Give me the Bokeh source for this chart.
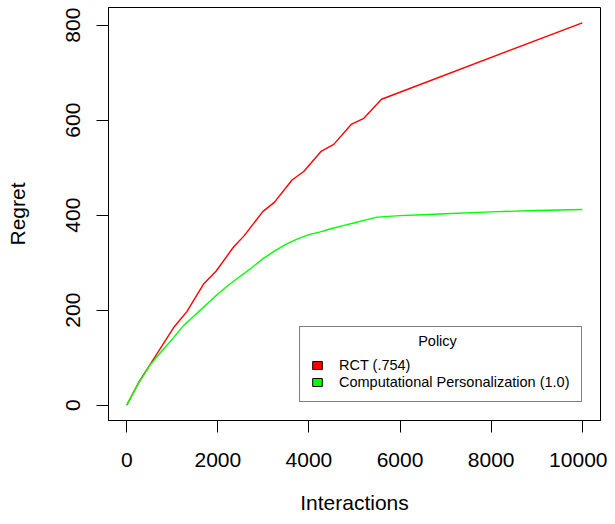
from bokeh.plotting import figure
from bokeh.models import (Range1d, FixedTicker, Legend, LegendItem,
                          ColumnDataSource)
from bokeh.core.properties import value
from bokeh.embed import file_html
from bokeh.resources import INLINE

# ---- data ----
rct_x = [0, 270, 1026, 1320, 1686, 1960, 2345, 2580, 2991, 3240, 3629, 3885,
         4274, 4545, 4927, 5205, 5594, 10000]
rct_y = [0, 49, 163, 197, 255, 282, 333, 357, 408, 427, 474, 492,
         535, 549, 591, 604, 644, 805]

cp_x = [0, 250, 500, 750, 1000, 1250, 1500, 1750, 2000, 2250, 2500, 2750,
        3000, 3250, 3500, 3750, 4000, 4250, 4500, 4750, 5000, 5250, 5500,
        6000, 6500, 7000, 8000, 9000, 10000]
cp_y = [0, 45, 83, 112, 139, 168, 190, 212, 234, 254, 272, 290,
        309, 325, 339, 350, 359, 365, 372, 378, 384, 390, 396,
        399, 401, 403, 407, 410, 412]

x_ticks = [0, 2000, 4000, 6000, 8000, 10000]
y_ticks = [0, 200, 400, 600, 800]

series_names = ["RCT (.754)", "Computational Personalization (1.0)"]
series_colors = ["#FF0000", "#00FF00"]
legend_title = "Policy"

FONT = "Liberation Sans"

p = figure(width=607, height=516, output_backend="svg", toolbar_location=None,
           x_range=Range1d(-400, 10400), y_range=Range1d(-32.2, 837.2),
           min_border_left=108, min_border_right=7, min_border_top=7,
           min_border_bottom=96)

p.background_fill_color = "white"
p.border_fill_color = "white"
p.outline_line_color = "black"
p.outline_line_width = 1
p.xgrid.visible = False
p.ygrid.visible = False

p.line(rct_x, rct_y, line_color=series_colors[0], line_width=1.4)
p.line(cp_x, cp_y, line_color=series_colors[1], line_width=1.4)

# axes
for ax in (p.xaxis[0], p.yaxis[0]):
    ax.major_tick_out = 12
    ax.major_tick_in = 0
    ax.minor_tick_out = 0
    ax.minor_tick_in = 0
    ax.axis_line_color = "black"
    ax.major_tick_line_color = "black"
    ax.major_label_text_font = FONT
    ax.major_label_text_font_size = "21px"
    ax.major_label_text_color = "black"
    ax.axis_label_text_font = FONT
    ax.axis_label_text_font_size = "21px"
    ax.axis_label_text_font_style = "normal"
    ax.axis_label_text_color = "black"

p.xaxis.ticker = FixedTicker(ticks=x_ticks)
p.yaxis.ticker = FixedTicker(ticks=y_ticks)
p.xaxis.axis_label = "Interactions"
p.yaxis.axis_label = "Regret"
p.xaxis.major_label_standoff = 20
p.xaxis.axis_label_standoff = 21
p.yaxis.major_label_orientation = "vertical"
p.yaxis.major_label_standoff = 16
p.yaxis.axis_label_standoff = 35

# legend title, centred over the legend box (drawn first; legend is transparent)
p.text(x=[6822], y=[135], text=[legend_title], text_align="center",
       text_baseline="middle", text_font=value(FONT), text_font_size="14.5px",
       text_color="black")

# legend swatches: one-row renderers with undefined (NaN) extent, so only the
# legend shows them
nan = float("nan")
swatches = []
for col in series_colors:
    src = ColumnDataSource(dict(l=[nan], r=[nan], t=[nan], b=[nan]))
    r = p.quad(left="l", right="r", top="t", bottom="b", source=src,
               fill_color=col, line_color="black", line_width=1)
    swatches.append(r)

legend = Legend(items=[LegendItem(label=series_names[0], renderers=[swatches[0]]),
                       LegendItem(label=series_names[1], renderers=[swatches[1]])],
                location=(191, 18), title=" ", title_text_font_size="9px",
                title_standoff=9)
legend.padding = 11
legend.margin = 0
legend.spacing = 1
legend.label_height = 16
legend.glyph_height = 10
legend.glyph_width = 12
legend.label_standoff = 16
legend.label_text_font = FONT
legend.label_text_font_size = "14.5px"
legend.label_text_color = "black"
legend.border_line_color = "black"
legend.border_line_width = 1
legend.background_fill_alpha = 0
p.add_layout(legend, "center")

open("out.html", "w").write(file_html(p, INLINE))
